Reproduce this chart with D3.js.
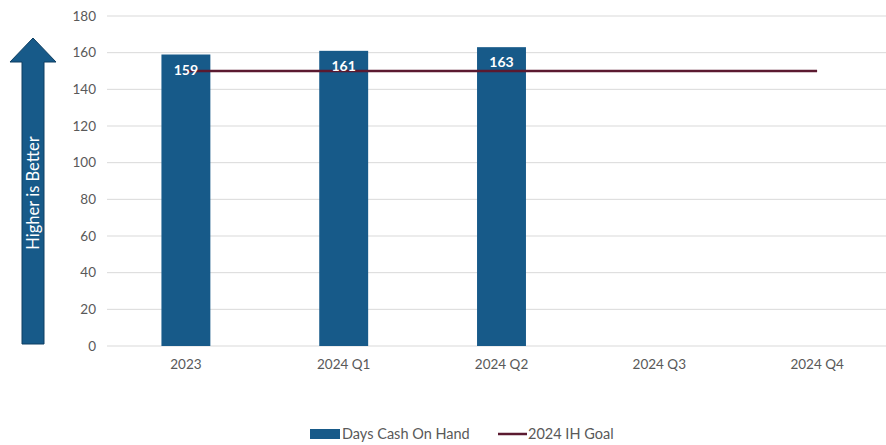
<!DOCTYPE html>
<html>
<head>
<meta charset="utf-8">
<script src="https://cdn.jsdelivr.net/npm/d3@7"></script>
<style>
  body { margin: 0; background: #fff; }
  svg text { font-family: Lato, "Open Sans", sans-serif; }
</style>
</head>
<body>
<div id="chart"></div>
<script>
// datos
const categories = ["2023", "2024 Q1", "2024 Q2", "2024 Q3", "2024 Q4"]
const daysCash = [159, 161, 163, null, null]
const goal = [150, 150, 150, 150, 150]
const yTicks = [0, 20, 40, 60, 80, 100, 120, 140, 160, 180]

const width = 886
const height = 445
const blue = "#175a89"
const maroon = "#5b1a30"

const svg = d3.select("div#chart").append("svg").attr("width", width).attr("height", height)

// escalas
const x = d3.scaleBand().domain(categories).range([107, 896]).paddingInner(0.69).paddingOuter(0.345)
const xc = d3.scalePoint().domain(categories).range([107, 896]).padding(0.5)
const y = d3.scaleLinear().domain([0, 180]).range([346, 16])

// rejilla
svg.append("g").selectAll("line").data(yTicks).join("line")
    .attr("x1", 107).attr("x2", width)
    .attr("y1", d => y(d)).attr("y2", d => y(d))
    .attr("stroke", "#d9d9d9").attr("stroke-width", 1)

// eje y
const yAxisGroup = svg.append("g").attr("transform", "translate(96,0)")
    .call(d3.axisLeft(y).tickValues(yTicks).tickSize(0).tickPadding(0))
yAxisGroup.select(".domain").remove()
yAxisGroup.selectAll("text").attr("font-size", 13.5).attr("fill", "#595959")

// eje x
const xAxisGroup = svg.append("g").attr("transform", "translate(0,359)")
    .call(d3.axisBottom(x).tickSize(0).tickPadding(0))
xAxisGroup.select(".domain").remove()
xAxisGroup.selectAll("text").attr("font-size", 13.5).attr("fill", "#595959")

// barras
const barData = categories.map((c, i) => ({cat: c, v: daysCash[i]})).filter(d => d.v != null)
svg.append("g").selectAll("rect").data(barData).join("rect")
    .attr("x", d => x(d.cat))
    .attr("y", d => y(d.v))
    .attr("width", x.bandwidth())
    .attr("height", d => y(0) - y(d.v))
    .attr("fill", blue)

// línea objetivo
const line = d3.line().x((d, i) => xc(categories[i])).y(d => y(d))
svg.append("path").datum(goal)
    .attr("d", line)
    .attr("fill", "none")
    .attr("stroke", maroon)
    .attr("stroke-width", 2.5)

// etiquetas
svg.append("g").selectAll("text").data(barData).join("text")
    .attr("x", d => x(d.cat) + x.bandwidth() / 2)
    .attr("y", d => y(d.v) + 20)
    .attr("text-anchor", "middle")
    .attr("font-size", 14)
    .attr("font-weight", "bold")
    .attr("fill", "#fff")
    .text(d => d.v)

// flecha "Higher is Better"
const arrow = svg.append("g")
arrow.append("path")
    .attr("d", "M22,344 L22,62 L10,62 L33,38 L56,62 L44,62 L44,344 Z")
    .attr("fill", blue)
    .attr("stroke", "#0f3f63")
    .attr("stroke-width", 1)
arrow.append("text")
    .attr("transform", "translate(39,193) rotate(-90)")
    .attr("text-anchor", "middle")
    .attr("font-size", 16.5)
    .attr("fill", "#fff")
    .text("Higher is Better")

// leyenda
const legend = svg.append("g")
legend.append("rect").attr("x", 310).attr("y", 429).attr("width", 30).attr("height", 10).attr("fill", blue)
legend.append("text").attr("x", 342).attr("y", 439).attr("font-size", 14.5).attr("fill", "#595959").text("Days Cash On Hand")
legend.append("line").attr("x1", 498).attr("x2", 527).attr("y1", 434).attr("y2", 434)
    .attr("stroke", maroon).attr("stroke-width", 2.5)
legend.append("text").attr("x", 528).attr("y", 439).attr("font-size", 14.5).attr("fill", "#595959").text("2024 IH Goal")
</script>
</body>
</html>
